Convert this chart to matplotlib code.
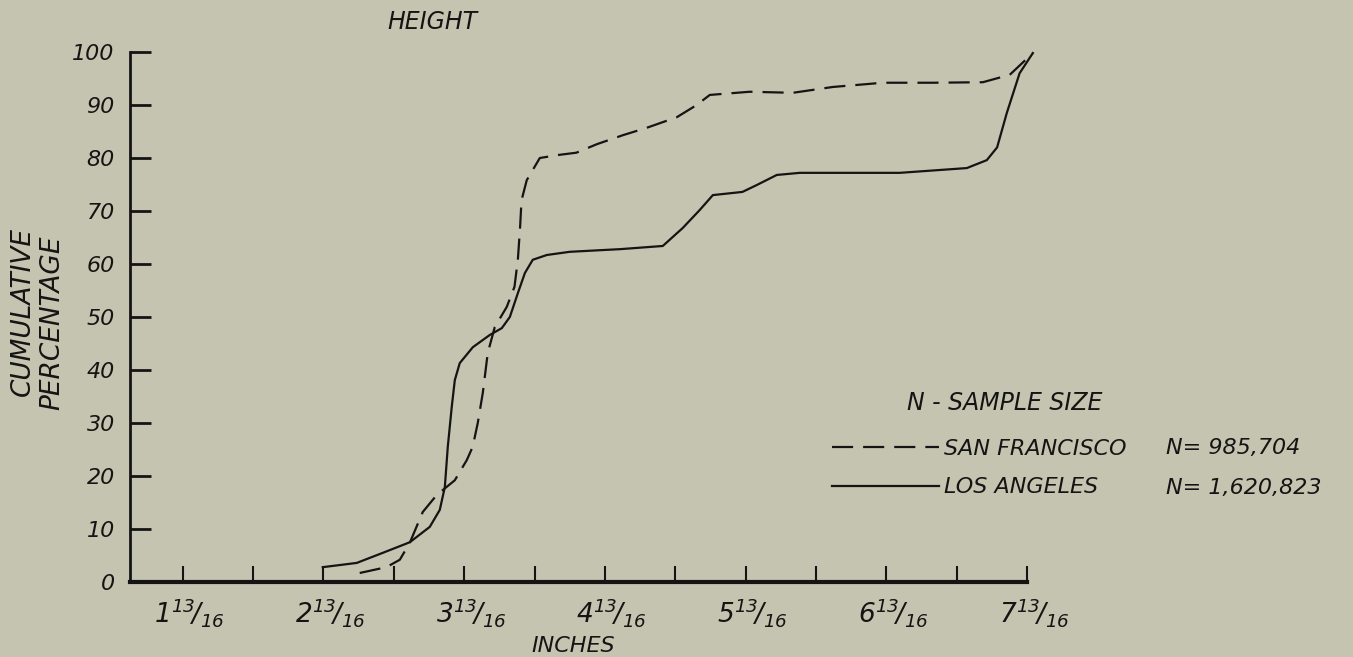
import matplotlib
matplotlib.use("Agg")
import matplotlib.pyplot as plt
from matplotlib.transforms import ScaledTranslation

# cumulative height distribution
la_x = [2.8075, 3.049, 3.234, 3.426, 3.568, 3.639, 3.675, 3.696, 3.724, 3.746,
        3.781, 3.874, 3.994, 4.08, 4.137, 4.194, 4.244, 4.30, 4.40, 4.563,
        4.776, 4.92, 5.224, 5.366, 5.487, 5.58, 5.79, 5.892, 6.034, 6.198,
        6.432, 6.908, 7.385, 7.527, 7.60, 7.669, 7.76, 7.854]
la_y = [2.8, 3.6, 5.5, 7.5, 10.4, 13.6, 17.9, 25.5, 33.0, 38.1,
        41.3, 44.3, 46.6, 47.9, 50.0, 54.5, 58.3, 60.8, 61.7, 62.3,
        62.6, 62.8, 63.4, 66.8, 70.2, 73.0, 73.6, 74.9, 76.8, 77.2,
        77.2, 77.2, 78.1, 79.6, 82.0, 88.5, 96.0, 99.8]

sf_x = [3.07, 3.26, 3.355, 3.426, 3.518, 3.617, 3.746, 3.831, 3.873, 3.909,
        3.945, 3.98, 4.03, 4.115, 4.17, 4.194, 4.21, 4.22, 4.257, 4.35,
        4.49, 4.61, 4.755, 4.94, 5.11, 5.324, 5.465, 5.558, 5.842, 6.148,
        6.432, 6.788, 7.143, 7.499, 7.69, 7.854]
sf_y = [1.7, 2.8, 4.2, 7.4, 13.2, 16.4, 19.2, 23.0, 25.5, 30.0,
        35.7, 43.2, 48.1, 51.9, 55.7, 60.8, 67.0, 72.0, 75.8, 80.0,
        80.6, 81.0, 82.6, 84.3, 85.7, 87.7, 90.0, 91.9, 92.5, 92.3,
        93.4, 94.2, 94.2, 94.3, 95.7, 99.8]

cities = ["SAN FRANCISCO", "LOS ANGELES"]
sample_sizes = ["985,704", "1,620,823"]

whole_inches = [1, 2, 3, 4, 5, 6, 7]
x_major = [w + 13 / 16 for w in whole_inches]
x_minor = [w + 0.5 for w in x_major[:-1]]
x_labels = [r"$%d^{13}\!/_{16}$" % w for w in whole_inches]
y_ticks = list(range(0, 101, 10))

BG = "#c5c4b0"
INK = "#141414"

plt.rcParams["font.family"] = ["DejaVu Sans"]
plt.rcParams["font.style"] = "italic"
plt.rcParams["mathtext.fontset"] = "custom"
plt.rcParams["mathtext.rm"] = "DejaVu Sans:italic"
plt.rcParams["mathtext.it"] = "DejaVu Sans:italic"

fig = plt.figure(figsize=(13.53, 6.57), dpi=100, facecolor=BG)
ax = fig.add_axes([130 / 1353, 75 / 657, 897 / 1353, 530 / 657], facecolor=BG)

sf_line, = ax.plot(sf_x, sf_y, color=INK, lw=1.6, dashes=(9.5, 4.5), clip_on=False)
la_line, = ax.plot(la_x, la_y, color=INK, lw=1.6, clip_on=False)

ax.set_xlim(1.4375, 7.8125)
ax.set_ylim(0, 100)

for s in ("top", "right"):
    ax.spines[s].set_visible(False)
ax.spines["left"].set_linewidth(2.0)
ax.spines["bottom"].set_linewidth(3.0)
ax.spines["left"].set_color(INK)
ax.spines["bottom"].set_color(INK)

ax.set_yticks(y_ticks)
ax.set_yticklabels([str(v) for v in y_ticks], fontsize=16, color=INK)
ax.tick_params(axis="y", direction="in", length=15, width=2, pad=11, colors=INK)

ax.set_xticks(x_major)
ax.set_xticklabels(x_labels, fontsize=19, color=INK)
ax.set_xticks(x_minor, minor=True)
ax.tick_params(axis="x", which="both", direction="in", length=11.5, width=1.5,
               pad=10, colors=INK)
off = ScaledTranslation(0.07, 0, fig.dpi_scale_trans)
for lab in ax.get_xticklabels():
    lab.set_transform(lab.get_transform() + off)

fig.text(387 / 1353, 1 - 22 / 657, "HEIGHT", fontsize=17, color=INK,
         ha="left", va="center")
fig.text(573 / 1353, 1 - 646 / 657, "INCHES", fontsize=16, color=INK,
         ha="center", va="center")
fig.text(23 / 1353, 1 - 312 / 657, "CUMULATIVE", fontsize=19, color=INK,
         rotation=90, ha="center", va="center")
fig.text(52 / 1353, 1 - 323 / 657, "PERCENTAGE", fontsize=19, color=INK,
         rotation=90, ha="center", va="center")

fig.text(907 / 1353, 1 - 403 / 657, "N - SAMPLE SIZE", fontsize=17, color=INK,
         ha="left", va="center")
leg = ax.legend([sf_line, la_line], cities, loc="center left",
                bbox_to_anchor=(832 / 1353, 1 - 468 / 657),
                bbox_transform=fig.transFigure, frameon=False, fontsize=16,
                handlelength=4.8, handletextpad=0.25, labelspacing=0.85,
                borderpad=0, borderaxespad=0)
for t in leg.get_texts():
    t.set_color(INK)
for n, yy in zip(sample_sizes, [448, 488]):
    fig.text(1166 / 1353, 1 - yy / 657, "N= " + n, fontsize=16, color=INK,
             ha="left", va="center")

fig.savefig("out.png", dpi=100, facecolor=BG)
